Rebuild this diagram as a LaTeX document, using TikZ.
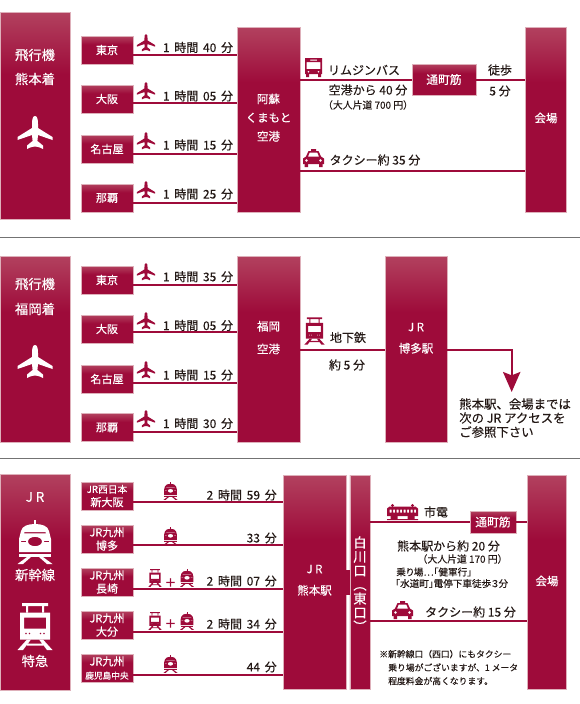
\documentclass[tikz,border=0pt]{standalone}
\usepackage{graphicx}
\usepackage{fontspec}
\setmainfont[FakeBold=0.25]{Noto Sans CJK JP}
\newfontfamily\hourfont[FakeBold=0.25,WordSpace=1.75]{Noto Sans CJK JP}
\newfontfamily\paltfont[FakeBold=0.25,RawFeature=+palt]{Noto Sans CJK JP}
\newfontfamily\plusfont{Noto Sans CJK JP Bold}
\usetikzlibrary{arrows.meta}

\definecolor{reddark}{RGB}{158,11,58}
\definecolor{redpale}{RGB}{212,156,156}
\definecolor{redborder}{RGB}{222,176,186}
\definecolor{inkgray}{RGB}{35,24,21}
\pgfdeclareverticalshading{boxfade}{100bp}{color(0bp)=(reddark); color(60bp)=(reddark); color(100bp)=(redpale)}

\tikzset{
	redbox/.style 2 args={shade, shading=boxfade, draw=redborder, line width=0.3pt, inner sep=0pt,
		minimum width=#1*0.75pt, minimum height=#2*0.75pt, text=white, align=center,
		font=\fontsize{8.3}{10}\selectfont},
	boxtitle/.style={text=white, inner sep=0pt, font=\fontsize{10}{12}\selectfont},
	boxword/.style={text=white, inner sep=0pt, font=\fontsize{8.6}{11}\selectfont},
	timetext/.style={text=inkgray, inner sep=0pt, font=\fontsize{9}{11}\selectfont},
	hourtext/.style={text=inkgray, inner sep=0pt, font=\hourfont\fontsize{9}{11}\selectfont},
	faretext/.style={text=inkgray, inner sep=0pt, font=\fontsize{7.4}{9}\selectfont},
	notetext/.style={text=inkgray, inner sep=0pt, align=left, anchor=west, font=\fontsize{6.6}{10.1}\selectfont},
	stoptext/.style={text=inkgray, inner sep=0pt, align=left, anchor=west, font=\paltfont\fontsize{7.2}{9}\selectfont},
	plustext/.style={text=reddark, inner sep=0pt, font=\plusfont\fontsize{9}{10}\selectfont},
	link/.style={draw=reddark, line width=1.5pt},
	rule/.style={draw=black!55, line width=0.7pt},
	redicon/.style={fill=reddark},
	whiteicon/.style={fill=white},
	planeicon/.pic={
		\fill[pic actions] (0,-17) .. controls (2.4,-17) and (3,-13) .. (3,-9) -- (3,-5) -- (17.5,4) -- (17.5,7)
			-- (3,2) -- (2.4,8) -- (8,12.5) -- (8,16) .. controls (4,14) and (2,13.5) .. (0,13.5)
			.. controls (-2,13.5) and (-4,14) .. (-8,16) -- (-8,12.5) -- (-2.4,8) -- (-3,2) -- (-17.5,7) -- (-17.5,4)
			-- (-3,-5) -- (-3,-9) .. controls (-3,-13) and (-2.4,-17) .. (0,-17) -- cycle;
	},
	busicon/.pic={
		\fill[pic actions, even odd rule] (-8.5,-9.5) -- (8.5,-9.5) -- (8.5,6.5) -- (-8.5,6.5) -- cycle
			(-3.5,-8) rectangle (3.5,-6.8) (-6.8,-5.5) rectangle (6.8,1.5)
			(-5,4.2) circle[radius=1.1] (5,4.2) circle[radius=1.1];
		\fill[pic actions] (-7.5,6.5) rectangle (-4.5,9.5) (4.5,6.5) rectangle (7.5,9.5);
	},
	taxiicon/.pic={
		\fill[pic actions, even odd rule] (-2.5,-9) -- (2.5,-9) -- (2.5,-7) -- (5,-7) -- (7.5,-1.5) -- (10.5,0.5)
			-- (10.5,6) -- (-10.5,6) -- (-10.5,0.5) -- (-7.5,-1.5) -- (-5,-7) -- (-2.5,-7) -- cycle
			(-3.8,-5.5) -- (3.8,-5.5) -- (5.5,-1.5) -- (-5.5,-1.5) -- cycle
			(-7,2.5) circle[radius=1.6] (7,2.5) circle[radius=1.6];
		\fill[pic actions] (-9,6) rectangle (-5.5,9) (5.5,6) rectangle (9,9);
	},
	expressicon/.pic={
		\fill[pic actions] (-13,-23.5) rectangle (13,-20.5) (-9,-20.5) rectangle (-7,-14) (7,-20.5) rectangle (9,-14);
		\fill[pic actions, even odd rule] (-15,-14) rectangle (15,13)
			(-11,-9) rectangle (11,2)
			(-9,7) circle[radius=1.2] (-5.5,7) circle[radius=1.2] (9,7) circle[radius=1.2] (5.5,7) circle[radius=1.2];
		\fill[pic actions] (-8,13) -- (-4,13) -- (-12,23.5) -- (-17.5,23.5) -- cycle
			(8,13) -- (4,13) -- (12,23.5) -- (17.5,23.5) -- cycle
			(-8,17) rectangle (8,19);
	},
	bulleticon/.pic={
		\fill[pic actions] (-1,-22) rectangle (1,-17);
		\fill[pic actions, even odd rule] (0,-18) .. controls (7,-18) and (13,-16) .. (14,-11) -- (16,-3) -- (16,10)
			-- (-16,10) -- (-16,-3) -- (-14,-11) .. controls (-13,-16) and (-7,-18) .. (0,-18) -- cycle
			(-10.5,-10) -- (10.5,-10) -- (11,-8.7) -- (-11,-8.7) -- cycle
			(0,-0.5) circle[x radius=7, y radius=4.7]
			(-14,-1.2) rectangle (-9,0.2) (9,-1.2) rectangle (14,0.2);
		\fill[pic actions] (-16,11.5) rectangle (16,15);
		\fill[pic actions] (-8,15) -- (-4,15) -- (-12,22) -- (-17.5,22) -- cycle
			(8,15) -- (4,15) -- (12,22) -- (17.5,22) -- cycle;
	},
	tramicon/.pic={
		\fill[pic actions] (-10,-6.5) circle[radius=1.7] (10,-6.5) circle[radius=1.7];
		\fill[pic actions, even odd rule] (-13,-5.5) -- (13,-5.5) -- (15.5,-3.5) -- (15.5,4) -- (-15.5,4) -- (-15.5,-3.5) -- cycle
			(-13,-2.5) rectangle (-11,0.5) (-9.5,-2.5) rectangle (-7.5,0.5) (-6,-2.5) rectangle (-4,0.5)
			(-2.5,-2.5) rectangle (-0.5,0.5) (1,-2.5) rectangle (3,0.5) (4.5,-2.5) rectangle (6.5,0.5)
			(8,-2.5) rectangle (10,0.5) (11.5,-2.5) rectangle (13.5,0.5);
		\fill[pic actions] (-12,4) rectangle (-5,7) (5,4) rectangle (12,7) (-15.5,7) rectangle (15.5,8);
	}
}

\begin{document}
\begin{tikzpicture}[x=0.75pt,y=-0.75pt]
	\useasboundingbox (0,0) rectangle (580,704);

	% airport Kumamoto
	\node[redbox={70}{207}] (kumamotoflight) at (35,115.5) {};
	\node[boxtitle] (kumamototitlea) at (35,55) {飛行機};
	\node[boxtitle] (kumamototitleb) at (35,79) {熊本着};
	\pic[whiteicon] (kumamotoplane) at (35,133) {planeicon};

	\node[redbox={52}{28}] (tokyoa) at (107,50) {東京};
	\node[redbox={52}{28}] (osakaa) at (107,99) {大阪};
	\node[redbox={52}{28}] (nagoyaa) at (107,149) {名古屋};
	\node[redbox={52}{28}] (nahaa) at (107,198) {那覇};
	\node[redbox={63}{185}] (asoport) at (268.5,119.5) {};
	\node[boxword] (asoportname) at (268.5,119) {\begin{tabular}{@{}c@{}}阿蘇\\[3pt]くまもと\\[3pt]空港\end{tabular}};

	\draw[link] (tokyoa.east |- 0,55) -- (asoport.west |- 0,55);
	\draw[link] (osakaa.east |- 0,103) -- (asoport.west |- 0,103);
	\draw[link] (nagoyaa.east |- 0,153.5) -- (asoport.west |- 0,153.5);
	\draw[link] (nahaa.east |- 0,202.5) -- (asoport.west |- 0,202.5);

	\pic[redicon,scale=.52] (tokyoplanea) at (146,43) {planeicon};
	\pic[redicon,scale=.52] (osakaplanea) at (146,91) {planeicon};
	\pic[redicon,scale=.52] (nagoyaplanea) at (146,141) {planeicon};
	\pic[redicon,scale=.52] (nahaplanea) at (146,190) {planeicon};
	\node[hourtext] (tokyotimea) at (198,47.5) {1 時間 40 分};
	\node[hourtext] (osakatimea) at (198,96) {1 時間 05 分};
	\node[hourtext] (nagoyatimea) at (198,145) {1 時間 15 分};
	\node[hourtext] (nahatimea) at (198,194) {1 時間 25 分};

	\node[redbox={64}{31},font=\fontsize{8.8}{11}\selectfont] (tsubox) at (444,79.5) {通町筋};
	\node[redbox={41}{185}] (venuea) at (546,119.5) {};
	\node[boxword] (venueaname) at (546,118) {会場};
	\draw[link] (asoport.east |- tsubox.west) -- (tsubox.west);
	\draw[link] (tsubox.east) -- (venuea.west |- tsubox.east);
	\draw[link] (asoport.east |- 0,170.5) -- (venuea.west |- 0,170.5);

	\pic[redicon] (limobus) at (313.5,67.5) {busicon};
	\pic[redicon] (taxia) at (313.5,158) {taxiicon};
	\node[timetext] (limotext) at (364,70) {リムジンバス};
	\node[timetext] (limotime) at (368,90) {空港から 40 分};
	\node[faretext] (limofare) at (368,105) {（大人片道 700 円）};
	\node[timetext] (walktext) at (500,70) {徒歩};
	\node[timetext] (walktime) at (500,91) {5 分};
	\node[timetext] (taxiatext) at (375,160) {タクシー約 35 分};

	\draw[rule] (0,237.3) -- (580,237.3);

	% airport Fukuoka
	\node[redbox={70}{186}] (fukuokaflight) at (35,349) {};
	\node[boxtitle] (fukuokatitlea) at (35,284) {飛行機};
	\node[boxtitle] (fukuokatitleb) at (35,309) {福岡着};
	\pic[whiteicon] (fukuokaplane) at (35,362) {planeicon};

	\node[redbox={52}{28}] (tokyob) at (107,280) {東京};
	\node[redbox={52}{28}] (osakab) at (107,329) {大阪};
	\node[redbox={52}{28}] (nagoyab) at (107,379) {名古屋};
	\node[redbox={52}{28}] (nahab) at (107,427.5) {那覇};
	\node[redbox={63}{186}] (fukuokaport) at (268.5,349) {};
	\node[boxword] (fukuokaportname) at (268.5,339) {\begin{tabular}{@{}c@{}}福岡\\[6pt]空港\end{tabular}};

	\draw[link] (tokyob.east |- 0,284.7) -- (fukuokaport.west |- 0,284.7);
	\draw[link] (osakab.east |- 0,332.3) -- (fukuokaport.west |- 0,332.3);
	\draw[link] (nagoyab.east |- 0,382.7) -- (fukuokaport.west |- 0,382.7);
	\draw[link] (nahab.east |- 0,432) -- (fukuokaport.west |- 0,432);

	\pic[redicon,scale=.52] (tokyoplaneb) at (146,272) {planeicon};
	\pic[redicon,scale=.52] (osakaplaneb) at (146,321) {planeicon};
	\pic[redicon,scale=.52] (nagoyaplaneb) at (146,370) {planeicon};
	\pic[redicon,scale=.52] (nahaplaneb) at (146,419) {planeicon};
	\node[hourtext] (tokyotimeb) at (198,276.7) {1 時間 35 分};
	\node[hourtext] (osakatimeb) at (198,325.5) {1 時間 05 分};
	\node[hourtext] (nagoyatimeb) at (198,375) {1 時間 15 分};
	\node[hourtext] (nahatimeb) at (198,423.5) {1 時間 30 分};

	\node[redbox={62}{186}] (hakata) at (416,349) {};
	\node[boxword] (hakataname) at (416,339) {\begin{tabular}{@{}c@{}}J R\\[5pt]博多駅\end{tabular}};
	\coordinate (arrowend) at (511.7,392);
	\draw[link] (fukuokaport.east |- 0,350) -- (hakata.west |- 0,350);
	\draw[link,-{Stealth[length=15pt,width=13pt,inset=2.5pt]}] (hakata.east |- 0,350) -| (arrowend);

	\pic[redicon,scale=.58] (subway) at (314.5,331) {expressicon};
	\node[timetext] (subwaytext) at (348,337.5) {地下鉄};
	\node[timetext] (subwaytime) at (347,365) {約 5 分};
	\node[notetext,font=\fontsize{9.3}{10.5}\selectfont] (seebelow) at (459,418) {熊本駅、会場までは\\次の JR アクセスを\\ご参照下さい};

	\draw[rule] (0,458.3) -- (580,458.3);

	% JR
	\node[redbox={70}{216}] (jrtrain) at (35,582) {};
	\node[boxtitle] (jrtitle) at (35,497) {J R};
	\pic[whiteicon] (bulletbig) at (35,542) {bulleticon};
	\node[boxtitle] (bullettitle) at (35,575) {新幹線};
	\pic[whiteicon] (expressbig) at (35,626.5) {expressicon};
	\node[boxtitle] (expresstitle) at (35,661) {特急};

	\node[redbox={52}{28}] (shinosaka) at (107,496) {{\fontsize{7.3}{10}\selectfont JR西日本}\\新大阪};
	\node[redbox={52}{28}] (hakatajr) at (107,539) {JR九州\\博多};
	\node[redbox={52}{28}] (nagasaki) at (107,582) {JR九州\\長崎};
	\node[redbox={52}{28}] (oita) at (107,625) {JR九州\\大分};
	\node[redbox={52}{28}] (kagoshima) at (107,668) {JR九州\\{\fontsize{6.5}{10}\selectfont 鹿児島中央}};
	\node[redbox={63}{214}] (kumamotosta) at (314.5,582) {};
	\node[boxword] (kumamotostaname) at (314.5,581) {\begin{tabular}{@{}c@{}}J R\\[5pt]熊本駅\end{tabular}};

	\draw[link] (shinosaka.east |- 0,502) -- (kumamotosta.west |- 0,502);
	\draw[link] (hakatajr.east |- 0,545) -- (kumamotosta.west |- 0,545);
	\draw[link] (nagasaki.east |- 0,588.7) -- (kumamotosta.west |- 0,588.7);
	\draw[link] (oita.east |- 0,631.7) -- (kumamotosta.west |- 0,631.7);
	\draw[link] (kagoshima.east |- 0,675) -- (kumamotosta.west |- 0,675);

	\pic[redicon,scale=.4] (bulletone) at (170.5,491) {bulleticon};
	\pic[redicon,scale=.4] (bullettwo) at (170.5,536) {bulleticon};
	\pic[redicon,scale=.38] (expressthree) at (155,578) {expressicon};
	\node[plustext] (plusthree) at (170.5,583) {＋};
	\pic[redicon,scale=.4] (bulletthree) at (187,578) {bulleticon};
	\pic[redicon,scale=.38] (expressfour) at (155,621) {expressicon};
	\node[plustext] (plusfour) at (170.5,624) {＋};
	\pic[redicon,scale=.4] (bulletfour) at (187,621) {bulleticon};
	\pic[redicon,scale=.4] (bulletfive) at (170.5,664) {bulleticon};

	\node[hourtext,anchor=east] (shinosakatime) at (277,495) {2 時間 59 分};
	\node[hourtext,anchor=east] (hakatatime) at (277,538) {33 分};
	\node[hourtext,anchor=east] (nagasakitime) at (277,581) {2 時間 07 分};
	\node[hourtext,anchor=east] (oitatime) at (277,624) {2 時間 34 分};
	\node[hourtext,anchor=east] (kagoshimatime) at (277,667) {44 分};

	\node[redbox={20.5}{214}] (shirakawa) at (360,582) {};
	\node[boxtitle,align=center,font=\fontsize{10}{10.5}\selectfont] (shirakawaname) at (360,584) {白\\川\\口\\\smash{\rotatebox[origin=c]{-90}{（}}\\東\\口\\\smash{\rotatebox[origin=c]{-90}{）}}};
	\draw[draw=reddark,line width=18.75pt] (kumamotosta) -- (shirakawa);

	\node[redbox={46}{22},font=\fontsize{8.8}{11}\selectfont] (tsuboxb) at (493,522) {通町筋};
	\node[redbox={39}{214}] (venueb) at (547,582) {};
	\node[boxword] (venuebname) at (547,581) {会場};
	\draw[link] (shirakawa.east |- tsuboxb.west) -- (tsuboxb.west);
	\draw[link] (tsuboxb.east) -- (venueb.west |- tsuboxb.east);
	\draw[link] (shirakawa.east |- 0,620.7) -- (venueb.west |- 0,620.7);

	\pic[redicon] (tram) at (402.5,512) {tramicon};
	\node[timetext] (tramtext) at (436,512) {市電};
	\node[timetext] (tramtime) at (448.5,546) {熊本駅から約 20 分};
	\node[faretext] (tramfare) at (462.5,559) {（大人片道 170 円）};
	\node[stoptext] (tramstop) at (396,572) {乗り場…「健軍行」};
	\node[stoptext] (tramwalk) at (395,583.5) {「水道町」電停下車徒歩３分};
	\pic[redicon] (taxib) at (402.5,610) {taxiicon};
	\node[timetext] (taxibtext) at (470.5,612) {タクシー約 15 分};
	\node[notetext] (westnote) at (379,667.5) {※新幹線口（西口）にもタクシー\\\hspace*{6.75pt}乗り場がございますが、1 メータ\\\hspace*{6.75pt}程度料金が高くなります。};
\end{tikzpicture}
\end{document}
